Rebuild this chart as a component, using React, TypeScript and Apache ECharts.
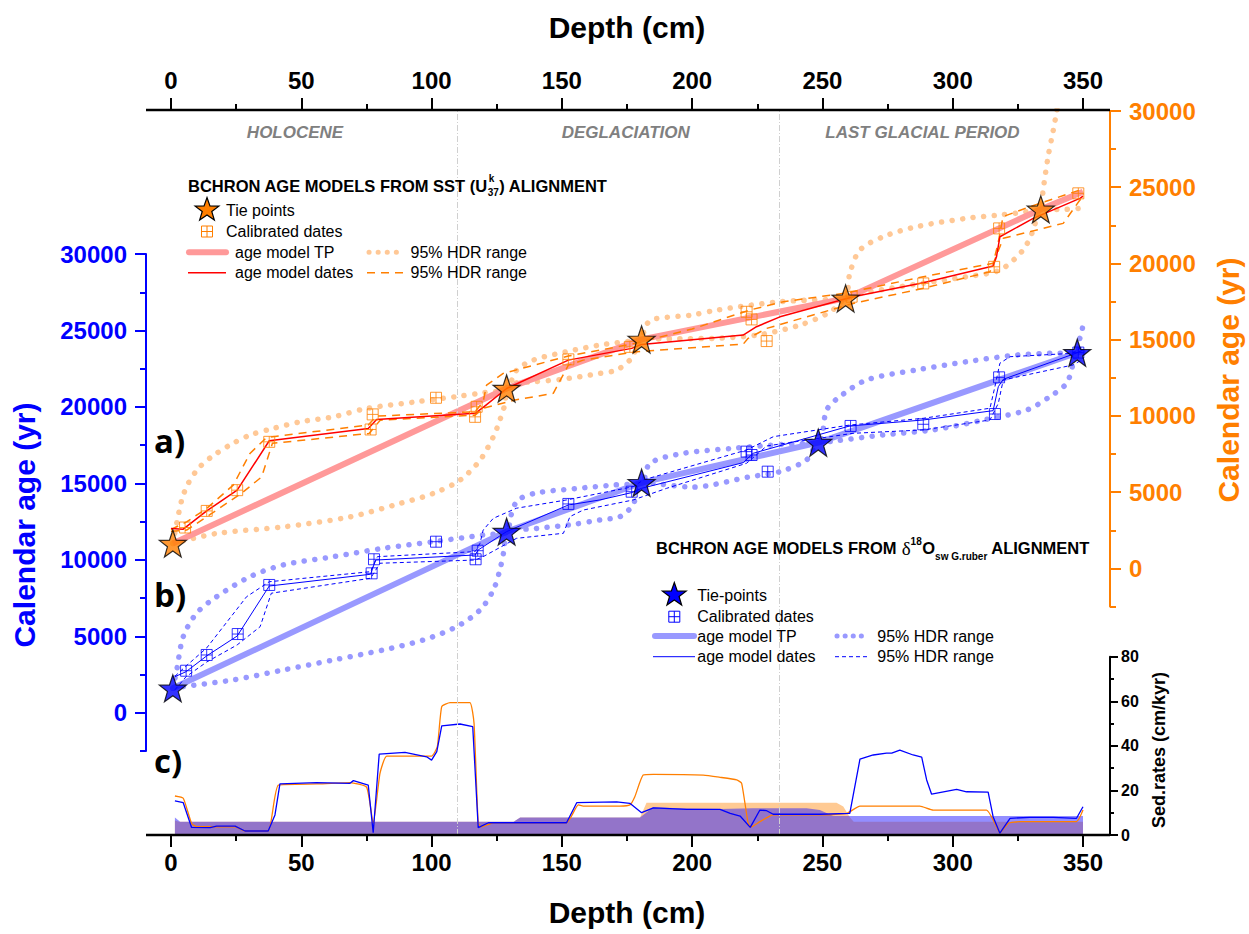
import React, { useEffect, useRef } from "react";
import * as echarts from "echarts";

// ---------------- DATA ----------------
const depthMin = 0;
const depthMax = 350;
const depthInterval = 50;
const ageLabelValues = [0, 5000, 10000, 15000, 20000, 25000, 30000];
const ageMinorValues = [-2500, 2500, 7500, 12500, 17500, 22500, 27500];
const periodBounds = [110, 233.5];
const periodNames = ["HOLOCENE", "DEGLACIATION", "LAST GLACIAL PERIOD"];
const periodCenters = [47.6, 174.5, 288.4];

// (a) SST (U37k) alignment — right (orange) axis, [depth cm, age yr]
const sstTiePoints = [[0.7, 1630], [128.8, 11800], [180.6, 15020], [258.9, 17710], [333.8, 23550]];
const sstModelTP = [[0.7, 1630], [128.8, 11800], [180.6, 15020], [258.9, 17710], [333.8, 23550], [350, 24710]];
const sstModelDates = [[0, 2620], [4.7, 2570], [13.7, 3770], [25.4, 5130], [37.7, 8370], [75.7, 9180], [78.9, 9770], [116.7, 10170], [119.8, 10560], [128.8, 11800], [152.5, 13660], [176.8, 14430], [180.6, 14690], [219.6, 15300], [224.7, 15850], [233.7, 16500], [261.8, 17820], [288.7, 18730], [315.5, 19830], [316.8, 20440], [318.1, 21750], [330.9, 22960], [348.8, 24270], [350, 24420]];
const sstCalibrated = [[5.4, 2680], [13.7, 3770], [25.4, 5130], [37.7, 8300], [76.6, 9110], [77.4, 10100], [101.7, 11190], [116.7, 9940], [117.3, 10600], [152.5, 13710], [176.1, 14530], [220.9, 16830], [222.8, 16330], [228.6, 14910], [261.2, 17820], [288.7, 18690], [315.9, 19780], [317.8, 22300], [348.2, 24600]];
const sstDatesUpper = [[0, 2550], [6.0, 3050], [13.7, 3930], [23.9, 5460], [30.3, 7540], [36.7, 8590], [75.7, 9400], [78.9, 9990], [116.7, 10270], [119.8, 10930], [121.1, 12020], [127.5, 12790], [152.5, 13930], [176.8, 14710], [200, 15700], [222, 16940], [235, 17490], [259, 18060], [288.7, 19130], [315.5, 20010], [317.4, 21320], [319.3, 23070], [329.6, 23720], [348.8, 24820], [350, 24870]];
const sstDatesLower = [[0, 2440], [6, 2510], [15.6, 3600], [27, 4920], [34.8, 6000], [38.9, 8200], [76, 8850], [80.3, 9720], [116.7, 10050], [120, 10510], [132, 11040], [146.7, 11480], [152.5, 13330], [158.2, 13660], [178.7, 14210], [219.6, 14710], [221.5, 15090], [228.6, 15740], [261.8, 17380], [288.7, 18370], [314.3, 19460], [319.4, 21650], [342.4, 22630], [348.8, 24160], [350, 24320]];
const sstTPUpper = [[0.7, 1630], [4.1, 4480], [6.6, 5570], [10.5, 6560], [15.6, 7320], [22.6, 8090], [30.3, 8740], [39.3, 9180], [49.5, 9610], [62.3, 9940], [75.1, 10490], [94.3, 10930], [110.9, 11300], [119.8, 11520], [128.8, 11800], [132.7, 13010], [139, 13660], [151.8, 14210], [164.6, 14650], [177.4, 14930], [180.6, 15020], [182, 15880], [185, 16340], [200, 16620], [209.4, 16940], [233.7, 17490], [254.1, 17650], [258.9, 17710], [260.5, 19350], [264.4, 20880], [273.3, 21750], [286.1, 22410], [305.3, 22960], [318.1, 23180], [328.4, 23390], [333.8, 23550], [334.7, 24820], [336.6, 27000], [338.6, 28750], [339.9, 29960], [341.5, 31660]];
const sstTPLower = [[0.7, 1630], [17.5, 2290], [43.1, 2720], [68.7, 3380], [87.9, 4260], [100.7, 4920], [110.9, 5790], [118.6, 7100], [123.7, 8630], [126.2, 9720], [128.2, 10820], [128.8, 11800], [131.4, 12130], [139, 12240], [150, 12400], [164.6, 12790], [171, 13010], [176.1, 13660], [178, 14210], [180.6, 15020], [195, 15060], [210.7, 15100], [226, 15330], [241.4, 15960], [252.9, 16810], [258.9, 17710], [265, 18040], [279.7, 18470], [292.5, 18800], [305.3, 19130], [318.1, 19570], [327, 20880], [330.9, 22190], [333.8, 23550], [340, 23540], [348.8, 23620], [350, 23770]];

// (b) d18Osw alignment — left (blue) axis, [depth cm, age yr]
const d18TiePoints = [[0.7, 1600], [128.8, 11850], [180.6, 15050], [248.4, 17670], [347.8, 23550]];
const d18ModelTP = [[0.7, 1600], [128.8, 11850], [180.6, 15050], [248.4, 17670], [347.8, 23550], [350, 23680]];
const d18ModelDates = [[1.5, 2360], [5.8, 2690], [13.7, 3720], [25.4, 5020], [37.7, 8290], [76.6, 9060], [78.5, 9990], [116.7, 10320], [117.9, 10650], [128.8, 11850], [152.5, 13590], [164.6, 13920], [176.8, 14400], [180.6, 14680], [219.6, 16360], [223.4, 16970], [260.5, 18760], [288.7, 19150], [315.5, 19760], [317.5, 21330], [319.4, 21810], [347.8, 23550], [350, 23730]];
const d18Calibrated = [[5.8, 2750], [13.7, 3780], [25.6, 5150], [37.7, 8360], [77, 9120], [77.9, 10040], [101.7, 11190], [116.9, 10040], [117.7, 10600], [152.5, 13660], [176.8, 14460], [220.9, 17080], [222.8, 16860], [229, 15770], [260.8, 18760], [288.7, 18870], [316.2, 19540], [317.8, 21940], [348.2, 23560]];
const d18DatesUpper = [[1.5, 2390], [5.8, 3060], [13.7, 4240], [29, 7590], [37.7, 8570], [76.6, 9230], [79.2, 10210], [116.7, 10540], [118.6, 11090], [119.8, 11950], [123.7, 12720], [132.6, 13380], [151.8, 13920], [177.4, 14790], [181.3, 15230], [220.9, 17190], [231.2, 18060], [260.5, 18820], [288.7, 19260], [314.3, 19920], [316.2, 21330], [318.1, 22860], [322, 23290], [346, 23510], [348.8, 23840], [350, 23950]];
const d18DatesLower = [[1.5, 1500], [5.8, 2360], [13.7, 3320], [25.4, 4440], [34.2, 5630], [38.5, 7820], [76.6, 8800], [80.2, 9780], [116.7, 9990], [119.8, 10210], [132.6, 11410], [150.6, 11740], [153.1, 12830], [158.2, 13260], [177.4, 13920], [190.2, 14680], [220.9, 16320], [228.6, 17450], [261.8, 18280], [288.7, 18500], [314.3, 19150], [317.5, 20240], [319.4, 21770], [346.2, 22750], [349.5, 23080], [350, 23180]];
const d18TPUpper = [[0.7, 1600], [2.2, 2800], [4.7, 4980], [9.8, 6510], [17.5, 7590], [30.3, 8900], [43.1, 9670], [62.3, 10210], [81.5, 10760], [100.7, 11190], [119.9, 11630], [128.8, 11850], [130.5, 12920], [133, 13890], [140, 14370], [155, 14660], [170, 14900], [180.6, 15050], [183.8, 16320], [196.6, 16970], [215.8, 17300], [235, 17560], [248.4, 17670], [251.6, 19800], [256.7, 20680], [267, 21770], [286.1, 22420], [305.3, 22960], [324.5, 23400], [337.3, 23510], [347.8, 23550], [348.5, 24300], [349.5, 24900], [350, 25400]];
const d18TPLower = [[0.7, 1600], [4.7, 1710], [23.9, 2150], [43.1, 2800], [62.3, 3450], [81.5, 4110], [96.8, 4760], [109.6, 5630], [118.6, 6720], [123.7, 8030], [126.2, 9340], [127.8, 10650], [128.8, 11850], [140, 12050], [155, 12340], [164.6, 12610], [172.3, 12830], [177.3, 13590], [178.6, 14360], [180.6, 15050], [200, 14760], [222, 15430], [233.7, 15770], [243.9, 16540], [248.4, 17670], [254.1, 17760], [273.2, 18170], [292.5, 18500], [311.8, 19150], [328.4, 19800], [337.3, 20680], [343.7, 21550], [346.3, 22860], [347.8, 23550], [350, 23560]];

// (c) sedimentation rates, [depth cm, cm/kyr]
const sedRateSST = [[1.5, 17.5], [4.7, 16.5], [7.9, 5.2], [9.9, 3.7], [24.6, 3.7], [28.4, 1.8], [37.3, 1.8], [41.2, 22.4], [55.9, 22.9], [68.7, 23.5], [75.1, 21.4], [77.6, 5.2], [80.2, 27.7], [82.8, 35.4], [100, 35.4], [102.2, 39.6], [103.9, 57.6], [107.1, 59.4], [114.7, 59.4], [116.3, 50.1], [117.9, 5.2], [119.2, 3.7], [123.7, 5.5], [151.8, 5.5], [156.3, 13.5], [158.2, 13.0], [172.3, 13.0], [176.1, 13.5], [178.0, 17.2], [181.2, 26.9], [185.1, 27.2], [204.3, 26.9], [210.7, 25.9], [217.1, 24.7], [219.0, 23.2], [221.5, 5.2], [222.8, 3.7], [226, 6.0], [231.1, 9.0], [249, 9.0], [259.3, 9.7], [264.4, 13.0], [287.4, 13.0], [292.5, 11.2], [313, 11.2], [316.2, 5.2], [318.1, 1.0], [321.3, 5.2], [325.8, 6.0], [347.5, 6.0], [350, 11.2]];
const sedRateD18 = [[1.5, 15.3], [4.7, 14.5], [7.9, 3.4], [15.0, 3.3], [17.5, 4.0], [24.6, 4.0], [28.4, 1.8], [37.3, 1.8], [39.9, 9.0], [41.8, 22.9], [55.9, 23.5], [68.7, 23.2], [70.0, 24.4], [75.7, 22.4], [77.6, 1.0], [79.9, 36.3], [89.8, 37.1], [98.1, 35.1], [100.0, 33.6], [102.0, 37.4], [103.9, 49.0], [110.9, 49.8], [115.8, 48.6], [117.9, 3.3], [121.8, 5.5], [151.8, 5.5], [155.7, 14.5], [171.0, 14.9], [176.1, 14.2], [180.6, 10.0], [185.1, 12.2], [197.9, 11.5], [210.7, 11.5], [214.6, 9.7], [218.4, 8.5], [222.3, 3.4], [226.0, 11.2], [228.6, 10.9], [231.1, 9.3], [249.0, 9.3], [260.5, 9.7], [264.4, 34.0], [269.5, 35.9], [274.6, 36.7], [276.6, 36.7], [279.7, 38.1], [284.8, 35.9], [288.1, 34.9], [290.0, 24.7], [291.9, 18.3], [301.5, 20.5], [305.3, 19.4], [313.6, 19.2], [315.5, 8.2], [318.1, 0.8], [322.0, 7.5], [329.6, 7.9], [338.6, 7.9], [347.5, 7.5], [350, 12.7]];
const sedRangeSST = [[1.5, 6.5], [3, 6.0], [131.5, 6.0], [134, 7.8], [180, 7.8], [182.5, 14.5], [255.4, 14.5], [258, 12.8], [260.5, 8.0], [262, 6.0], [350, 6.0]];
const sedRangeD18 = [[1.5, 7.8], [3.5, 6.0], [131.5, 6.0], [134, 7.8], [180, 7.8], [185, 12.4], [197.8, 11.9], [210.6, 11.7], [223.4, 12.0], [243.9, 12.0], [249, 11.2], [254.1, 8.5], [350, 8.5]];

// ---------------- LAYOUT / STYLE ----------------
const FONT = '"Liberation Sans", Arial, sans-serif';
const GRID_LEFT = 171;
const GRID_W = 912;
const AX_L = 146;
const AX_R = 1110;
const TOP_Y = 110;
const BOTTOM_Y = 835;
const ORANGE = "#ff7f00";
const BLUE = "#0000ff";

function starPts(cx: number, cy: number, R: number) {
  const pts: number[][] = [];
  for (let i = 0; i < 10; i++) {
    const a = -Math.PI / 2 + (i * Math.PI) / 5;
    const r = i % 2 === 0 ? R : R * 0.4;
    pts.push([cx + r * Math.cos(a), cy + r * Math.sin(a)]);
  }
  return pts;
}
const STAR = "path://M" + starPts(10, 10, 10).map((p) => p[0].toFixed(2) + " " + p[1].toFixed(2)).join("L") + "Z";
const SQUARE = "path://M0 0H10V10H0ZM5 0V10M0 5H10";

const dx = (d: number) => GRID_LEFT + ((d - depthMin) / (depthMax - depthMin)) * GRID_W;

let measureCtx: CanvasRenderingContext2D | null = null;
function tw(text: string, font: string) {
  if (!measureCtx) measureCtx = document.createElement("canvas").getContext("2d");
  measureCtx!.font = font;
  return measureCtx!.measureText(text).width;
}

function txt(text: string, x: number, y: number, o: any = {}) {
  return {
    type: "text", x, y, z: 100, rotation: o.rotation || 0,
    style: {
      text, fill: o.fill || "#000", fontSize: o.size || 16, fontWeight: o.weight || "normal",
      fontStyle: o.italic ? "italic" : "normal", fontFamily: o.family || FONT,
      align: o.align || "left", verticalAlign: "middle",
    },
  };
}
function hline(x1: number, x2: number, y: number, color: string, width: number, dash?: any, cap = "butt") {
  return { type: "line", z: 100, shape: { x1, y1: y, x2, y2: y }, style: { stroke: color, lineWidth: width, lineDash: dash || null, lineCap: cap } };
}
function legendSquare(cx: number, cy: number, color: string) {
  const s = 5.5;
  return [
    { type: "rect", z: 100, shape: { x: cx - s, y: cy - s, width: 2 * s, height: 2 * s }, style: { fill: "none", stroke: color, lineWidth: 1 } },
    { type: "line", z: 100, shape: { x1: cx, y1: cy - s, x2: cx, y2: cy + s }, style: { stroke: color, lineWidth: 1 } },
    { type: "line", z: 100, shape: { x1: cx - s, y1: cy, x2: cx + s, y2: cy }, style: { stroke: color, lineWidth: 1 } },
  ];
}
function legendStar(cx: number, cy: number, color: string) {
  return { type: "polygon", z: 100, shape: { points: starPts(cx, cy, 12.5) }, style: { fill: color, stroke: "#000", lineWidth: 1.2 } };
}

function buildGraphic() {
  const g: any[] = [];
  // axis lines spanning the full frame
  g.push(hline(AX_L, AX_R, TOP_Y, "#000", 2.5));
  g.push(hline(AX_L, AX_R, BOTTOM_Y, "#000", 2.5));
  // axis titles
  g.push(txt("Depth (cm)", 627, 27, { size: 30, weight: "bold", align: "center" }));
  g.push(txt("Depth (cm)", 627, 912, { size: 30, weight: "bold", align: "center" }));
  g.push(txt("Calendar age (yr)", 24, 525, { size: 30, weight: "bold", align: "center", fill: BLUE, rotation: Math.PI / 2 }));
  g.push(txt("Calendar age (yr)", 1228, 380, { size: 30, weight: "bold", align: "center", fill: ORANGE, rotation: Math.PI / 2 }));
  g.push(txt("Sed.rates (cm/kyr)", 1159, 750, { size: 18, weight: "bold", align: "center", rotation: Math.PI / 2 }));
  // periods
  periodNames.forEach((n, i) => g.push(txt(n, dx(periodCenters[i]), 132, { size: 17, weight: "bold", italic: true, fill: "#808080", align: "center" })));
  // panel labels
  const pf = '"Open Sans", "DejaVu Sans", sans-serif';
  g.push(txt("a)", 154, 440, { size: 33, weight: "bold", family: pf }));
  g.push(txt("b)", 154, 594, { size: 33, weight: "bold", family: pf }));
  g.push(txt("c)", 154, 760, { size: 33, weight: "bold", family: pf }));

  // ---- legend a ----
  const TF = "bold 16.5px " + FONT;
  const SF = "bold 10px " + FONT;
  let x = 188;
  const ty = 186;
  const p1 = "BCHRON AGE MODELS FROM SST (U";
  g.push(txt(p1, x, ty, { size: 16.5, weight: "bold" }));
  x += tw(p1, TF);
  g.push(txt("k", x + 1, ty - 8, { size: 10, weight: "bold" }));
  g.push(txt("37", x, ty + 6, { size: 10, weight: "bold" }));
  x += tw("37", SF) + 0.5;
  g.push(txt(") ALIGNMENT", x, ty, { size: 16.5, weight: "bold" }));

  g.push(legendStar(207, 210, ORANGE));
  g.push(txt("Tie points", 226, 210));
  g.push(...legendSquare(207, 231.5, ORANGE));
  g.push(txt("Calibrated dates", 226, 231.5));
  g.push(hline(189, 226, 252.3, "#ff9999", 6, null, "round"));
  g.push(txt("age model TP", 235, 252.3));
  g.push(hline(369, 402, 252.3, "#ffc896", 5, [0.1, 9], "round"));
  g.push(txt("95% HDR range", 410.5, 252.3));
  g.push(hline(188, 226, 272.7, "#ff0000", 1.5));
  g.push(txt("age model dates", 235, 272.7));
  g.push(hline(367, 404, 272.7, ORANGE, 1.5, [8, 6]));
  g.push(txt("95% HDR range", 410.5, 272.7));

  // ---- legend b ----
  x = 656;
  const ty2 = 548;
  const q1 = "BCHRON AGE MODELS FROM ";
  g.push(txt(q1, x, ty2, { size: 16.5, weight: "bold" }));
  x += tw(q1, TF);
  const serif = '"Liberation Serif", "DejaVu Serif", serif';
  g.push(txt("δ", x, ty2, { size: 19, family: serif }));
  x += tw("δ", "19px " + serif);
  g.push(txt("18", x, ty2 - 7, { size: 10, weight: "bold" }));
  x += tw("18", SF) + 0.5;
  g.push(txt("O", x, ty2, { size: 16.5, weight: "bold" }));
  x += tw("O", TF);
  g.push(txt("sw G.ruber", x, ty2 + 8, { size: 10, weight: "bold" }));
  x += tw("sw G.ruber", SF);
  g.push(txt(" ALIGNMENT", x, ty2, { size: 16.5, weight: "bold" }));

  g.push(legendStar(674.3, 595, BLUE));
  g.push(txt("Tie-points", 697.3, 595));
  g.push(...legendSquare(674.3, 616.7, BLUE));
  g.push(txt("Calibrated dates", 697.3, 616.7));
  g.push(hline(655, 694, 636, "#9999ff", 6, null, "round"));
  g.push(txt("age model TP", 697.3, 636));
  g.push(hline(837, 869, 636, "#9999ff", 5, [0.1, 8], "round"));
  g.push(txt("95% HDR range", 877.3, 636));
  g.push(hline(653, 695, 656.7, BLUE, 1));
  g.push(txt("age model dates", 697.3, 656.7));
  g.push(hline(835, 870, 656.7, BLUE, 1, [4, 3]));
  g.push(txt("95% HDR range", 877.3, 656.7));
  return g;
}

function lineSeries(data: any, xi: number, yi: number, lineStyle: any, z: number, extra: any = {}) {
  return { type: "line", xAxisIndex: xi, yAxisIndex: yi, data, symbol: "none", showSymbol: false, silent: true, lineStyle, z, ...extra };
}

function ageAxis(grid: number, pos: string, offset: number, color: string, major: boolean) {
  return {
    type: "value", gridIndex: grid, position: pos, offset, min: -2500, max: 30000,
    splitLine: { show: false },
    axisLine: { show: major, onZero: false, lineStyle: { color, width: 2 } },
    axisTick: { show: true, customValues: major ? ageLabelValues : ageMinorValues, length: major ? 11 : 6, lineStyle: { color, width: 2 } },
    axisLabel: {
      show: major, customValues: ageLabelValues, formatter: (v: number) => String(v), color,
      fontSize: 24, fontWeight: "bold", fontFamily: FONT, margin: 19,
    },
  };
}

function depthAxis(grid: number, pos: string | null) {
  const base: any = { type: "value", gridIndex: grid, min: depthMin, max: depthMax, interval: depthInterval, splitLine: { show: false } };
  if (!pos) return { ...base, show: false };
  return {
    ...base, position: pos,
    axisLine: { show: false, onZero: false },
    axisTick: { show: true, length: 12, lineStyle: { color: "#000", width: 2 } },
    minorTick: { show: true, splitNumber: 2, length: 6, lineStyle: { color: "#000", width: 2 } },
    minorSplitLine: { show: false },
    axisLabel: { color: "#000", fontSize: 24, fontWeight: "bold", fontFamily: FONT, margin: pos === "top" ? 18 : 15 },
  };
}

function buildOption(): any {
  const dotted = (c: string) => ({ color: c, width: 5.5, type: [0.1, 10.5], cap: "round" });
  return {
    animation: false,
    backgroundColor: "#fff",
    grid: [
      // orange (right) age axis: 30000 at y=111, -2500 at y≈606
      { left: GRID_LEFT, width: GRID_W, top: 111, height: 495.5, containLabel: false },
      // blue (left) age axis: 30000 at y=254, -2500 at y≈751
      { left: GRID_LEFT, width: GRID_W, top: 254.1, height: 496.9, containLabel: false },
      { left: GRID_LEFT, width: GRID_W, top: 656.7, height: BOTTOM_Y - 656.7, containLabel: false },
      { left: GRID_LEFT, width: GRID_W, top: TOP_Y, height: BOTTOM_Y - TOP_Y, containLabel: false },
    ],
    xAxis: [depthAxis(0, null), depthAxis(1, null), depthAxis(2, "bottom"), depthAxis(3, "top")],
    yAxis: [
      ageAxis(0, "right", AX_R - (GRID_LEFT + GRID_W), ORANGE, true),
      ageAxis(0, "right", AX_R - (GRID_LEFT + GRID_W), ORANGE, false),
      ageAxis(1, "left", GRID_LEFT - AX_L, BLUE, true),
      ageAxis(1, "left", GRID_LEFT - AX_L, BLUE, false),
      {
        type: "value", gridIndex: 2, position: "right", offset: AX_R - (GRID_LEFT + GRID_W), min: 0, max: 80, interval: 20,
        splitLine: { show: false },
        axisLine: { show: true, onZero: false, lineStyle: { color: "#000", width: 2 } },
        axisTick: { show: true, length: 8, lineStyle: { color: "#000", width: 2 } },
        minorTick: { show: true, splitNumber: 2, length: 4, lineStyle: { color: "#000", width: 2 } },
        axisLabel: { color: "#000", fontSize: 16, fontWeight: "bold", fontFamily: FONT, margin: 11 },
      },
      { type: "value", gridIndex: 3, show: false, min: 0, max: 1 },
    ],
    graphic: buildGraphic(),
    series: [
      // period boundaries
      lineSeries([[0, -1]], 3, 5, { opacity: 0 }, 1, {
        markLine: {
          silent: true, symbol: "none", label: { show: false },
          lineStyle: { color: "#d0d0d0", width: 1, type: [6, 2, 1, 2] },
          data: periodBounds.map((v) => ({ xAxis: v })),
        },
      }),
      // ---- (a) SST orange ----
      lineSeries(sstTPUpper, 0, 0, dotted("#ffc896"), 3, { smooth: 0.3 }),
      lineSeries(sstTPLower, 0, 0, dotted("#ffc896"), 3, { smooth: 0.3 }),
      lineSeries(sstModelTP, 0, 0, { color: "#ff9999", width: 6 }, 4),
      lineSeries(sstDatesUpper, 0, 0, { color: ORANGE, width: 1.5, type: [8, 6] }, 5),
      lineSeries(sstDatesLower, 0, 0, { color: ORANGE, width: 1.5, type: [8, 6] }, 5),
      lineSeries(sstModelDates, 0, 0, { color: "#ff0000", width: 1.5 }, 6),
      {
        type: "scatter", xAxisIndex: 0, yAxisIndex: 0, data: sstCalibrated, symbol: SQUARE, symbolSize: 11, silent: true, z: 7,
        itemStyle: { color: "rgba(255,255,255,0)", borderColor: ORANGE, borderWidth: 1 },
      },
      {
        type: "scatter", xAxisIndex: 0, yAxisIndex: 0, data: sstTiePoints, symbol: STAR, symbolSize: 27, silent: true, z: 8,
        itemStyle: { color: ORANGE, borderColor: "#000", borderWidth: 1.2 },
      },
      // ---- (b) d18O blue ----
      lineSeries(d18TPUpper, 1, 2, dotted("#9999ff"), 9, { smooth: 0.3 }),
      lineSeries(d18TPLower, 1, 2, dotted("#9999ff"), 9, { smooth: 0.3 }),
      lineSeries(d18ModelTP, 1, 2, { color: "#9999ff", width: 6 }, 10),
      lineSeries(d18DatesUpper, 1, 2, { color: BLUE, width: 1, type: [4, 3] }, 11),
      lineSeries(d18DatesLower, 1, 2, { color: BLUE, width: 1, type: [4, 3] }, 11),
      lineSeries(d18ModelDates, 1, 2, { color: BLUE, width: 1 }, 12),
      {
        type: "scatter", xAxisIndex: 1, yAxisIndex: 2, data: d18Calibrated, symbol: SQUARE, symbolSize: 11, silent: true, z: 13,
        itemStyle: { color: "rgba(255,255,255,0)", borderColor: BLUE, borderWidth: 1 },
      },
      {
        type: "scatter", xAxisIndex: 1, yAxisIndex: 2, data: d18TiePoints, symbol: STAR, symbolSize: 27, silent: true, z: 14,
        itemStyle: { color: BLUE, borderColor: "#000", borderWidth: 1.2 },
      },
      // ---- (c) sedimentation rates ----
      lineSeries(sedRangeSST, 2, 4, { width: 0 }, 2, { areaStyle: { color: "rgba(255,150,40,0.5)", opacity: 1 } }),
      lineSeries(sedRangeD18, 2, 4, { width: 0 }, 2, { areaStyle: { color: "rgba(40,30,255,0.5)", opacity: 1 } }),
      lineSeries(sedRateSST, 2, 4, { color: ORANGE, width: 1.3 }, 3, { smooth: 0.15 }),
      lineSeries(sedRateD18, 2, 4, { color: BLUE, width: 1.3 }, 4),
    ],
  };
}

export default function App() {
  const ref = useRef<HTMLDivElement>(null);
  useEffect(() => {
    const chart = echarts.init(ref.current!, null, { renderer: "svg" });
    chart.setOption(buildOption());
    return () => chart.dispose();
  }, []);
  return <div ref={ref} style={{ position: "absolute", left: 0, top: 0, width: 1249, height: 934, background: "#fff" }} />;
}
